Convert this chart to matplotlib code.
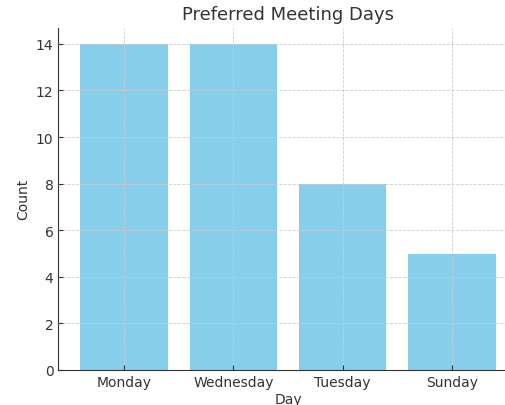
import matplotlib
matplotlib.use("Agg")
import matplotlib.pyplot as plt

days = ["Monday", "Wednesday", "Tuesday", "Sunday"]
counts = [14, 14, 8, 5]

fig = plt.figure(figsize=(5.06, 4.06), dpi=100)
ax = fig.add_axes([58.4 / 506, 35 / 406, 459.2 / 506, 342.4 / 406])

ax.bar(days, counts, color="skyblue", width=0.8, zorder=1)
ax.set_xlim(-0.6, 3.6)
ax.set_ylim(0, 14.7)
ax.set_yticks(range(0, 15, 2))

ax.grid(True, linestyle="--", linewidth=0.6, color="#cccccc", zorder=3)
ax.set_axisbelow(False)
for s in ["top", "right"]:
    ax.spines[s].set_visible(False)
for s in ["left", "bottom"]:
    ax.spines[s].set_color("#333333")
ax.tick_params(direction="in", labelsize=10, colors="#333333", length=3.5)

ax.set_title("Preferred Meeting Days", fontsize=13, color="#333333")
ax.set_xlabel("Day", fontsize=10, color="#333333", labelpad=2)
ax.set_ylabel("Count", fontsize=10, color="#333333")

fig.savefig("out.png", dpi=100)
